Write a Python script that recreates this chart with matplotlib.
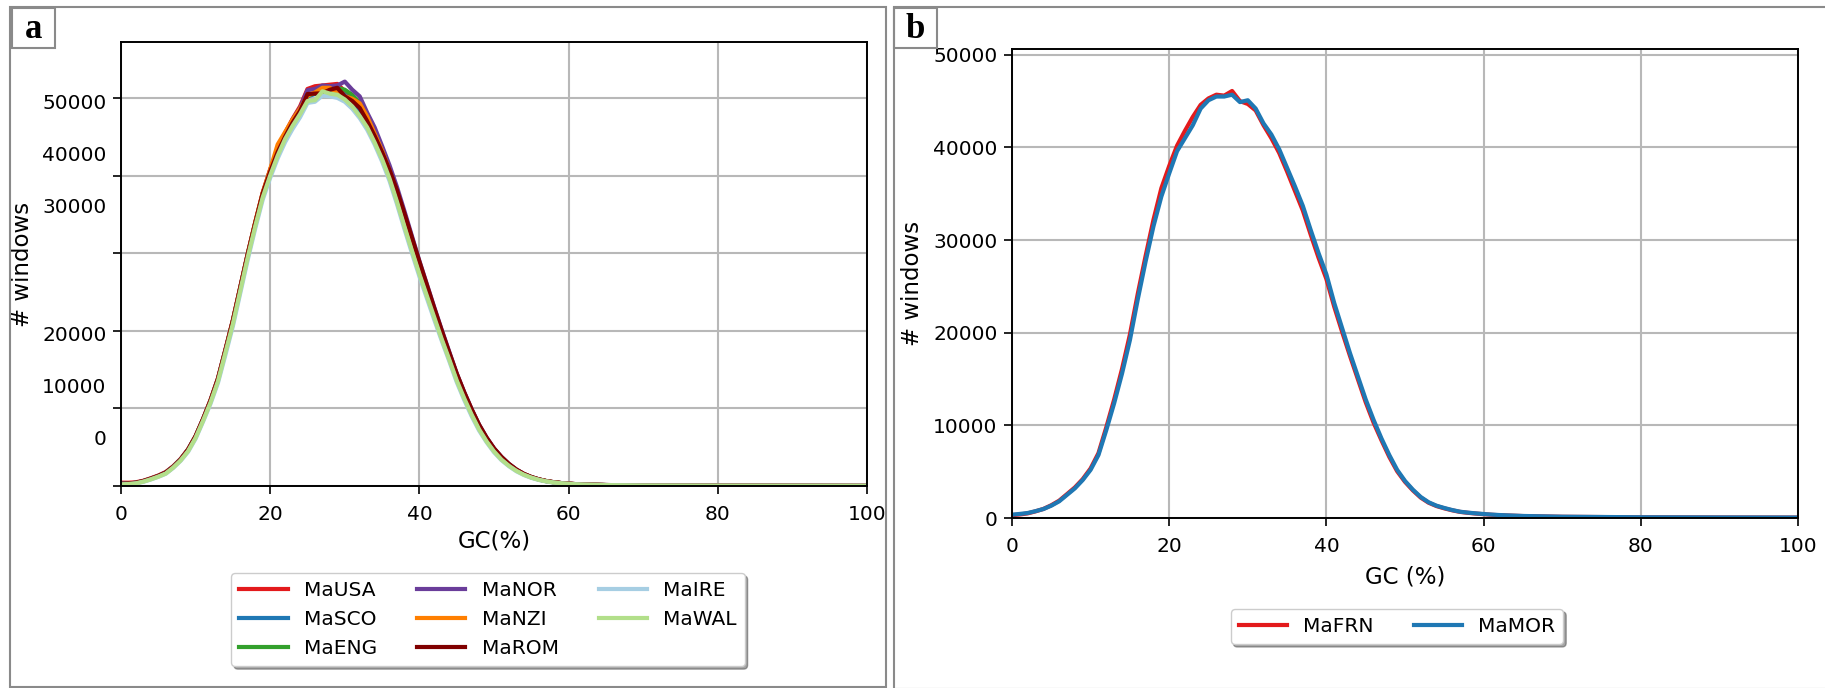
import matplotlib
matplotlib.use("Agg")
import matplotlib.pyplot as plt
from matplotlib.patches import Rectangle

# ---------------- data ----------------
gc = list(range(0, 63)) + [65, 70, 80, 90, 100]

names_a = ["MaUSA", "MaSCO", "MaENG", "MaNOR", "MaNZI", "MaROM", "MaIRE", "MaWAL"]
colors_a = ["#e31a1c", "#1f78b4", "#33a02c", "#6a3d9a", "#ff7f00", "#800000", "#a6cee3", "#b2df8a"]

ma_usa = [430, 420, 480, 680, 1000, 1350, 1800, 2550, 3500, 4750,
          6450, 8650, 11100, 13900, 17600, 21400, 25700, 30000, 34000, 37800,
          40800, 43300, 45500, 47300, 48900, 51150, 51500, 51600, 51700, 51800,
          50850, 50000, 48800, 47300, 45400, 43300, 40800, 37900, 34700, 31600,
          28500, 25600, 22700, 19900, 17100, 14400, 12000, 9800, 7800, 6150,
          4800, 3700, 2800, 2100, 1550, 1150, 860, 640, 490, 380,
          300, 240, 200, 125, 62, 32, 20, 10]
ma_sco = [300, 330, 420, 640, 950, 1300, 1750, 2500, 3450, 4700,
          6400, 8600, 11000, 13800, 17500, 21300, 25600, 29900, 33900, 37600,
          40400, 43000, 45200, 47000, 48500, 50200, 50500, 50900, 51000, 50900,
          50400, 49600, 48300, 46900, 45000, 42900, 40400, 37500, 34300, 31200,
          28200, 25300, 22500, 19600, 16900, 14200, 11800, 9700, 7700, 6100,
          4750, 3650, 2750, 2050, 1520, 1130, 840, 630, 480, 370,
          290, 230, 190, 120, 60, 30, 20, 10]
ma_eng = [250, 300, 400, 620, 930, 1280, 1700, 2450, 3400, 4650,
          6350, 8550, 10950, 13700, 17400, 21200, 25500, 29800, 33800, 37500,
          40300, 42900, 45100, 46900, 48400, 50300, 50600, 50900, 51100, 51300,
          51050, 50400, 49350, 47800, 45700, 43500, 40900, 38000, 34800, 31600,
          28500, 25600, 22700, 19800, 17000, 14300, 11900, 9750, 7750, 6100,
          4750, 3650, 2750, 2050, 1520, 1130, 840, 630, 480, 370,
          290, 230, 190, 120, 60, 30, 20, 10]
ma_nor = [260, 310, 410, 630, 940, 1290, 1720, 2470, 3420, 4680,
          6380, 8600, 11000, 13800, 17500, 21300, 25600, 29900, 33900, 37700,
          40700, 43300, 45300, 47200, 48700, 51000, 51150, 51600, 51500, 51600,
          52100, 51050, 50200, 48100, 46200, 43800, 41300, 38500, 35400, 32200,
          29000, 26000, 23000, 20100, 17300, 14500, 12100, 9900, 7900, 6250,
          4850, 3750, 2850, 2120, 1560, 1160, 860, 640, 490, 380,
          300, 240, 200, 125, 62, 32, 20, 10]
ma_nzi = [240, 290, 390, 610, 920, 1270, 1690, 2440, 3390, 4640,
          6350, 8550, 10950, 13750, 17450, 21300, 25600, 29900, 34000, 37800,
          40800, 44000, 45600, 47200, 48600, 50300, 50700, 51300, 51300, 50600,
          50200, 49900, 49300, 47600, 45400, 43200, 40600, 37600, 34400, 31300,
          28200, 25300, 22400, 19600, 16900, 14200, 11800, 9700, 7700, 6100,
          4750, 3650, 2750, 2050, 1520, 1130, 840, 630, 480, 370,
          290, 230, 190, 120, 60, 30, 20, 10]
ma_rom = [270, 320, 420, 640, 950, 1300, 1730, 2480, 3430, 4690,
          6400, 8600, 11000, 13800, 17500, 21300, 25600, 29900, 33900, 37700,
          40500, 43000, 45000, 46800, 48300, 50500, 50550, 50600, 51050, 51300,
          50200, 49600, 48700, 47000, 45100, 43000, 40700, 38100, 35100, 32000,
          28900, 25900, 22900, 20000, 17200, 14500, 12100, 9900, 7900, 6250,
          4850, 3750, 2850, 2120, 1560, 1160, 860, 640, 490, 380,
          300, 240, 200, 125, 62, 32, 20, 10]
ma_ire = [180, 240, 330, 540, 840, 1180, 1580, 2330, 3250, 4420,
          6100, 8300, 10600, 13300, 16900, 20600, 24900, 29200, 33200, 36900,
          39700, 42200, 44300, 46000, 47500, 49350, 49500, 50300, 50200, 50000,
          49500, 48600, 47400, 45900, 44000, 41800, 39300, 36300, 33100, 30000,
          27000, 24200, 21400, 18700, 16100, 13400, 11100, 9000, 7150, 5650,
          4350, 3330, 2550, 1900, 1420, 1050, 780, 580, 440, 340,
          270, 215, 175, 115, 58, 30, 18, 10]
ma_wal = [200, 250, 340, 560, 860, 1200, 1600, 2370, 3300, 4500,
          6200, 8400, 10750, 13500, 17200, 20900, 25200, 29500, 33500, 37200,
          40000, 42550, 44700, 46400, 47900, 49600, 49700, 50850, 50550, 50400,
          49800, 48900, 47650, 46200, 44250, 42100, 39600, 36600, 33400, 30300,
          27300, 24500, 21700, 18900, 16300, 13600, 11300, 9200, 7300, 5750,
          4450, 3400, 2600, 1950, 1450, 1080, 800, 600, 450, 350,
          280, 220, 180, 115, 58, 30, 18, 10]
series_a = [ma_usa, ma_sco, ma_eng, ma_nor, ma_nzi, ma_rom, ma_ire, ma_wal]

names_b = ["MaFRN", "MaMOR"]
colors_b = ["#e31a1c", "#1f78b4"]
ma_frn = [300, 380, 500, 720, 980, 1380, 1870, 2580, 3300, 4200,
          5350, 7000, 9800, 12800, 16100, 19800, 24200, 28300, 32200, 35600,
          38000, 40200, 41800, 43300, 44600, 45300, 45700, 45600, 46100, 45000,
          44700, 44000, 42400, 41000, 39400, 37400, 35300, 33200, 30600, 28100,
          25800, 22800, 20100, 17500, 15000, 12500, 10300, 8400, 6600, 5050,
          3900, 2980, 2200, 1650, 1290, 1040, 830, 660, 560, 480,
          410, 350, 300, 210, 130, 75, 55, 45]
ma_mor = [360, 440, 540, 740, 970, 1330, 1800, 2500, 3200, 4100,
          5200, 6800, 9500, 12400, 15600, 19200, 23600, 27700, 31500, 34700,
          37200, 39600, 41000, 42400, 44200, 45100, 45500, 45500, 45700, 44900,
          45100, 44200, 42600, 41400, 39800, 37800, 35800, 33700, 31100, 28600,
          26300, 23200, 20500, 17800, 15300, 12800, 10600, 8600, 6800, 5200,
          4000, 3060, 2270, 1700, 1330, 1080, 860, 680, 580, 500,
          430, 370, 320, 220, 140, 80, 60, 50]
series_b = [ma_frn, ma_mor]

xticks = [0, 20, 40, 60, 80, 100]
yticks = [0, 10000, 20000, 30000, 40000, 50000]
ytick_labels = ["0", "10000", "20000", "30000", "40000", "50000"]
# panel a: tick labels are drawn shifted from their gridlines (as in the reference)
ylabel_pos_a = [6300, 12900, 19600, 36200, 42800, 49500]

# ---------------- figure ----------------
W, H = 1825, 688
fig = plt.figure(figsize=(W / 100, H / 100), dpi=100)
plt.rcParams['font.family'] = ['DejaVu Sans']


def fx(px):
    return px / W


def fy(py):
    return 1 - py / H


frame_col = "#8a8a8a"
# panel frames
fig.patches.append(Rectangle((fx(10), fy(687)), fx(876), (687 - 7) / H, transform=fig.transFigure,
                             fill=False, edgecolor=frame_col, lw=1.5))
fig.patches.append(Rectangle((fx(894), fy(689)), fx(940), (689 - 7) / H, transform=fig.transFigure,
                             fill=False, edgecolor=frame_col, lw=1.5))
# label boxes
for x0, lab in [(12, "a"), (894, "b")]:
    fig.patches.append(Rectangle((fx(x0), fy(48)), fx(43), 40 / H, transform=fig.transFigure,
                                 fill=False, edgecolor=frame_col, lw=1.5))
    fig.text(fx(x0 + 21.5), fy(29), lab, ha="center", va="center", fontsize=25,
             fontweight="bold", family="Liberation Serif")

tick_fs = 14.5
lab_fs = 16.5

# ---------- panel a ----------
axa = fig.add_axes([fx(121), fy(486), fx(746), 444 / H])
for vals, nm, col in zip(series_a, names_a, colors_a):
    axa.plot(gc, vals, color=col, lw=3, label=nm)
axa.set_xlim(0, 100)
axa.set_ylim(0, 57200)
axa.set_xticks(xticks)
axa.set_yticks(yticks, labels=[""] * len(yticks))
axa.set_yticks(ylabel_pos_a, labels=ytick_labels, minor=True)
axa.tick_params(axis="y", which="minor", length=0, pad=10.5, labelsize=tick_fs)
axa.tick_params(axis="y", which="major", length=5.5, width=1.2)
axa.tick_params(axis="x", which="major", length=5.5, width=1.2, pad=8, labelsize=tick_fs)
axa.grid(True, which="major", color="#b8b8b8", lw=1.5)
axa.set_xlabel("GC(%)", fontsize=lab_fs)
axa.set_ylabel("# windows", fontsize=lab_fs)
axa.xaxis.set_label_coords(0.5, -0.098)
axa.yaxis.set_label_coords(-0.117, 0.5)
for s in axa.spines.values():
    s.set_linewidth(1.4)
fig.legend(*axa.get_legend_handles_labels(), loc="upper center",
           bbox_to_anchor=(fx(488), fy(563)), ncol=3, fontsize=tick_fs, shadow=True,
           handlelength=2.4, framealpha=1, edgecolor="#cccccc", labelspacing=0.5,
           columnspacing=2.0)

# ---------- panel b ----------
axb = fig.add_axes([fx(1012), fy(518), fx(786), 468.7 / H])
for vals, nm, col in zip(series_b, names_b, colors_b):
    axb.plot(gc, vals, color=col, lw=3, label=nm)
axb.set_xlim(0, 100)
axb.set_ylim(0, 50600)
axb.set_xticks(xticks)
axb.set_yticks(yticks, labels=ytick_labels)
axb.tick_params(axis="both", length=5.5, width=1.2, labelsize=tick_fs)
axb.tick_params(axis="x", pad=8)
axb.tick_params(axis="y", pad=5)
axb.grid(True, color="#b8b8b8", lw=1.5)
axb.set_xlabel("GC (%)", fontsize=lab_fs)
axb.set_ylabel("# windows", fontsize=lab_fs)
axb.xaxis.set_label_coords(0.5, -0.102)
axb.yaxis.set_label_coords(-0.112, 0.5)
for s in axb.spines.values():
    s.set_linewidth(1.4)
fig.legend(*axb.get_legend_handles_labels(), loc="upper center",
           bbox_to_anchor=(fx(1397), fy(599)), ncol=2, fontsize=tick_fs, shadow=True,
           handlelength=2.4, framealpha=1, edgecolor="#cccccc", columnspacing=2.0)

fig.savefig("out.png", dpi=100)
